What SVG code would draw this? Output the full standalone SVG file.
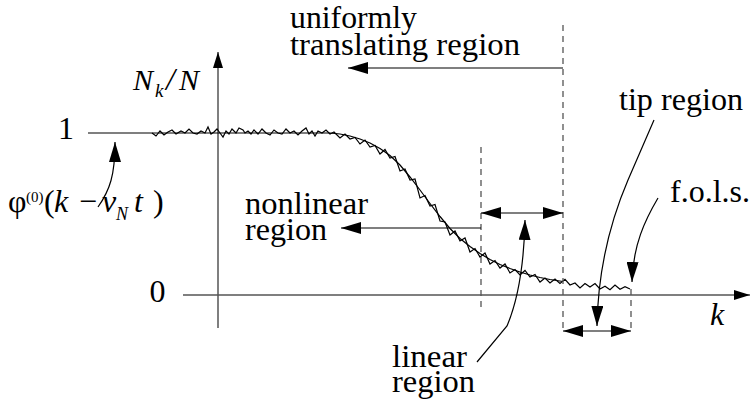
<svg xmlns="http://www.w3.org/2000/svg" width="752" height="402" viewBox="0 0 752 402">
<style>
.it{font-style:italic}
.axis{stroke:#555;stroke-width:1.5;fill:none}
.dash{stroke:#555;stroke-width:1.3;stroke-dasharray:6,5;fill:none}
.ln{stroke:#000;stroke-width:1.2;fill:none}
.lab{font-family:'Liberation Serif','Times New Roman',serif;font-size:32px;fill:#000}
</style>
<defs>
<marker id="ah" viewBox="0 0 20 12" refX="20" refY="6" markerWidth="20" markerHeight="12" markerUnits="userSpaceOnUse" orient="auto-start-reverse">
<path d="M0,0 L20,6 L0,12 z" fill="#000"/>
</marker>
<marker id="ax" viewBox="0 0 16 10" refX="16" refY="5" markerWidth="16" markerHeight="10" markerUnits="userSpaceOnUse" orient="auto">
<path d="M0,0 L16,5 L0,10 z" fill="#000"/>
</marker>
</defs>
<g id="axes">
<line class="axis" x1="218" y1="328" x2="218" y2="52" marker-end="url(#ax)"/>
<line class="axis" x1="183" y1="295" x2="750" y2="295" marker-end="url(#ax)"/>
</g>
<g id="curves">
<polyline class="ln" points="88,133 330,133 340,134 350,136 360,139 370,143 380,148.5 390,155.5 400,165 410,177 420,190 430,203.5 440,216.5 450,228.5 460,238.5 470,246.5 480,253.5 490,259.5 500,264.5 510,268.5 520,272 530,275 540,277.5 550,279.5 563,281.5"/>
<polyline class="ln" stroke-width="1" points="152,133 156,136 160,131 164,135 168,132 172,130 176,134 181,131 185,133 189,129 193,133 197,134 201,131 205,133 208,127 211,134 214,132 217,129 220,133 223,137 226,131 229,134 232,129 236,133 239,128 243,130 245,133 248,131 251,134 254,130 258,134 262,129 266,133 270,135 274,130 278,133 282,134 286,129 290,133 294,131 298,135 302,131 306,128 309,134 312,131 315,136 318,131 322,133 326,130 330,134 334,132 340,138 345,134 350,139 355,137.5 360,144 365,140 370,147 375,145.5 380,154 385,149.5 390,158 395,156.5 400,171 405,169 410,180 415,179 420,198 425,195.5 430,206 435,204.5 440,221 445,222 450,235 455,231 460,241 465,238 470,252 475,248.5 480,257 485,253 490,264 495,260.5 500,268 505,264 510,273 515,269.5 520,275 525,270.5 530,277 535,274.5 540,282 545,278 550,283 555,279 560,283.5 565,279.3 570,285 575,283 580,288 585,283.5 590,287 595,283.5 600,289 605,286.3 610,289.7 615,285 620,289.3 625,286.7 630,289"/>
</g>
<g id="dashed">
<line class="dash" x1="481" y1="147" x2="481" y2="307"/>
<line class="dash" x1="563" y1="25" x2="563" y2="333"/>
<line class="dash" x1="631" y1="289" x2="631" y2="333"/>
</g>
<g id="connectors">
<line class="ln" x1="563" y1="68" x2="348" y2="68" marker-end="url(#ah)"/>
<line class="ln" x1="481" y1="228" x2="341" y2="228" marker-end="url(#ah)"/>
<line class="ln" x1="481" y1="213" x2="563" y2="213" marker-start="url(#ah)" marker-end="url(#ah)"/>
<line class="ln" x1="563" y1="331" x2="631" y2="331" marker-start="url(#ah)" marker-end="url(#ah)"/>
<path class="ln" d="M98,207 C110,190 115,175 115,142" marker-end="url(#ah)"/>
<path class="ln" d="M477,362 L507,326 C518,300 524,265 525,220" marker-end="url(#ah)"/>
<path class="ln" d="M654,120 L628,180 C610,222 598,270 597,326" marker-end="url(#ah)"/>
<path class="ln" d="M658,198 C645,220 633,245 632,282" marker-end="url(#ah)"/>
</g>
<g id="labels" class="lab">
<g id="ylabel"><text class="it"><tspan x="133" y="90" font-size="30">N</tspan><tspan x="155" y="97" font-size="19">k</tspan><tspan x="166" y="90" font-size="32">/</tspan><tspan x="179" y="90" font-size="30">N</tspan></text></g>
<g id="one"><text x="66" y="139" text-anchor="middle">1</text></g>
<g id="zero"><text x="157.5" y="302" text-anchor="middle">0</text></g>
<g id="phi"><text><tspan x="8" y="212">φ</tspan><tspan x="26" y="202" font-size="15">(0)</tspan><tspan x="44" y="212">(</tspan><tspan x="54" y="212" class="it">k</tspan><tspan x="79" y="212">−</tspan><tspan x="102" y="212" class="it">v</tspan><tspan x="116" y="220" class="it" font-size="18">N</tspan><tspan x="134" y="212" class="it">t</tspan><tspan x="153" y="212">)</tspan></text></g>
<g id="uniform"><text x="290" y="28" textLength="127" lengthAdjust="spacingAndGlyphs">uniformly</text><text x="290" y="55" textLength="230" lengthAdjust="spacingAndGlyphs">translating region</text></g>
<g id="nonlinear"><text x="245" y="214" textLength="123" lengthAdjust="spacingAndGlyphs">nonlinear</text><text x="245" y="240" textLength="82" lengthAdjust="spacingAndGlyphs">region</text></g>
<g id="linear"><text x="392" y="367" textLength="75" lengthAdjust="spacingAndGlyphs">linear</text><text x="392" y="392" textLength="83" lengthAdjust="spacingAndGlyphs">region</text></g>
<g id="tip"><text x="619" y="110" textLength="124" lengthAdjust="spacingAndGlyphs">tip region</text></g>
<g id="fols"><text x="670" y="202" textLength="80" lengthAdjust="spacingAndGlyphs">f.o.l.s.</text></g>
<g id="klabel"><text x="710" y="325" class="it">k</text></g>
</g>
</svg>
